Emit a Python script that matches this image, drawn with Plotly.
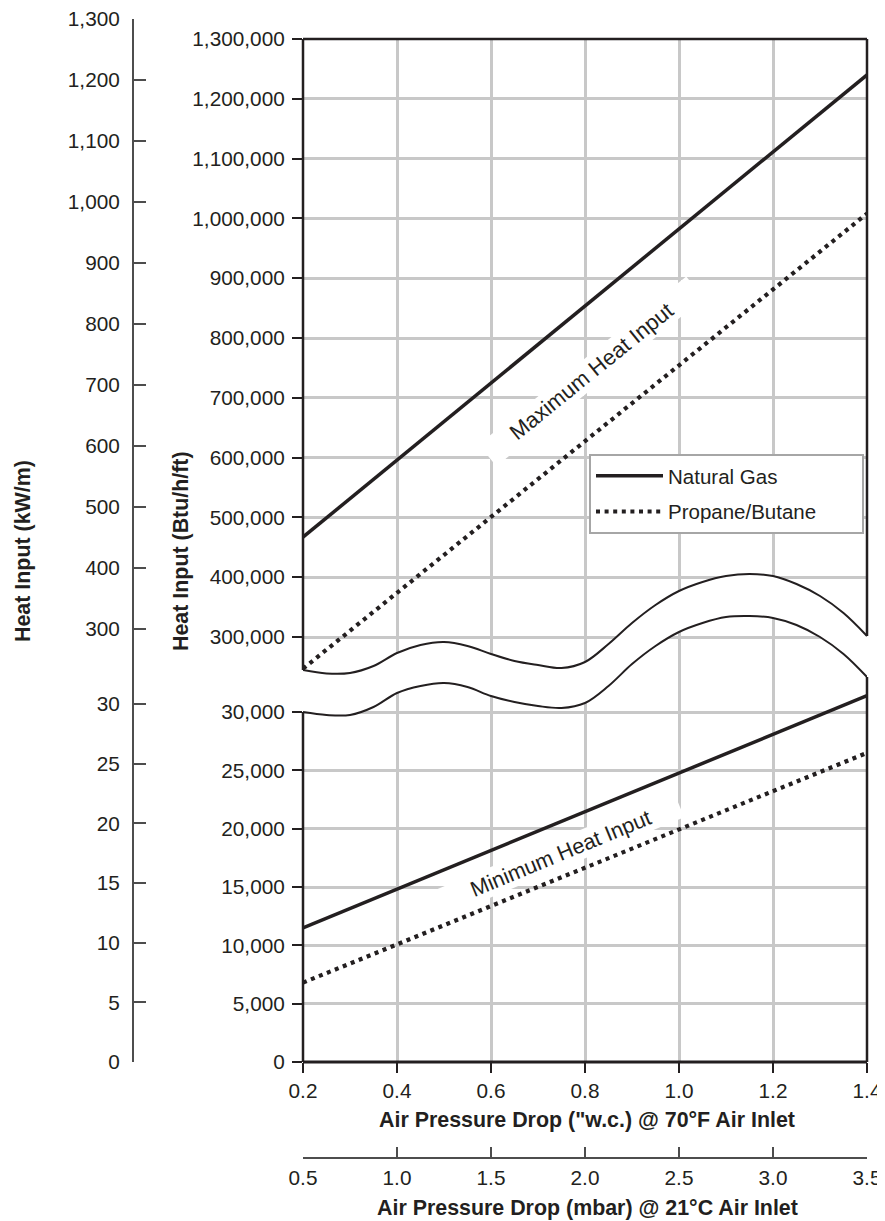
import plotly.graph_objects as go

# ---------------- data ----------------
x_wc = [0.2, 1.4]                       # Air pressure drop ("w.c.)
ng_max = [467000, 1240000]              # Natural gas, maximum heat input (Btu/h/ft)
pb_max = [247000, 1008000]              # Propane/Butane, maximum heat input
ng_min = [11500, 31400]                 # Natural gas, minimum heat input
pb_min = [6800, 26500]                  # Propane/Butane, minimum heat input

x_ticks = [0.2, 0.4, 0.6, 0.8, 1.0, 1.2, 1.4]
mbar_ticks = [0.5, 1.0, 1.5, 2.0, 2.5, 3.0, 3.5]
btu_lo_ticks = [0, 5000, 10000, 15000, 20000, 25000, 30000]
btu_hi_ticks = [300000, 400000, 500000, 600000, 700000, 800000, 900000,
                1000000, 1100000, 1200000, 1300000]
kw_lo_ticks = [0, 5, 10, 15, 20, 25, 30]
kw_hi_ticks = [300, 400, 500, 600, 700, 800, 900, 1000, 1100, 1200, 1300]

# axis-break band (wavy), expressed on the upper Btu/h/ft scale
break_x = [0.20, 0.25, 0.30, 0.35, 0.40, 0.45, 0.50, 0.55, 0.60, 0.65, 0.70, 0.75, 0.80,
           0.85, 0.90, 0.95, 1.00, 1.05, 1.10, 1.15, 1.20, 1.25, 1.30, 1.35, 1.40]
break_top = [244800, 239000, 239800, 251500, 273200, 286600, 291600, 285000, 271600,
             259900, 253200, 248200, 258200, 288300, 323400, 353500, 376900, 392000,
             402000, 405400, 402000, 388600, 368600, 340100, 301700]
break_bottom = [174600, 169600, 169600, 182900, 206400, 218100, 223100, 216400, 201300,
                191300, 184600, 181300, 189600, 218100, 254800, 285000, 308400, 323400,
                333400, 335100, 331800, 320100, 300000, 271600, 233100]

# ---------------- layout geometry (page pixels; page body has an 8 px margin) ----------------
OFF = 8
W, H = 885 - OFF, 1221 - OFF
ML, MR, MT, MB = 12, 18, 2, 63
PW, PH = W - ML - MR, H - MT - MB


def pxx(px):
    return (px - OFF - ML) / PW


def pxy(py):
    return (H - MB - (py - OFF)) / PH


PLOT_L, PLOT_R, PLOT_T, PLOT_B = 303, 867, 39, 1062
X_DOM = [pxx(PLOT_L), pxx(PLOT_R)]
Y_DOM = [pxy(PLOT_B), pxy(PLOT_T)]
KW_TOP = 19
KW_DOM = [pxy(PLOT_B), pxy(KW_TOP)]

# broken-axis ranges (each scale overlays the full plot height)
Y_LO_RANGE = [0, 30000 * (PLOT_B - PLOT_T) / (PLOT_B - 712)]
hi_per_px = 1000000 / (637 - PLOT_T)
Y_HI_RANGE = [300000 - (PLOT_B - 637) * hi_per_px, 1300000]
KW_LO_RANGE = [0, 30 * (PLOT_B - KW_TOP) / (PLOT_B - 704)]
kw_per_px = 1000 / (629 - KW_TOP)
KW_HI_RANGE = [300 - (PLOT_B - 629) * kw_per_px, 1300]

INK = "#231f20"
GRID = "#c8c8c8"
AX2 = "#4d4d4d"
FONT = "Liberation Sans, Arial, Helvetica, sans-serif"
DOT = "4px,4.6px"
NB = "\u00a0"

fig = go.Figure()

fig.add_trace(go.Scatter(x=x_wc, y=ng_max, xaxis="x", yaxis="y2", mode="lines",
                         name="Natural Gas", legendgroup="ng",
                         line=dict(color=INK, width=3.5), hoverinfo="skip"))
fig.add_trace(go.Scatter(x=x_wc, y=pb_max, xaxis="x", yaxis="y2", mode="lines",
                         name="Propane/Butane" + NB * 7, legendgroup="pb",
                         line=dict(color=INK, width=4.2, dash=DOT), hoverinfo="skip"))
fig.add_trace(go.Scatter(x=x_wc, y=ng_min, xaxis="x", yaxis="y", mode="lines",
                         name="Natural Gas", legendgroup="ng", showlegend=False,
                         line=dict(color=INK, width=3.5), hoverinfo="skip"))
fig.add_trace(go.Scatter(x=x_wc, y=pb_min, xaxis="x", yaxis="y", mode="lines",
                         name="Propane/Butane", legendgroup="pb", showlegend=False,
                         line=dict(color=INK, width=4.2, dash=DOT), hoverinfo="skip"))

# wavy axis-break band
fig.add_trace(go.Scatter(x=break_x, y=break_bottom, xaxis="x", yaxis="y2", mode="lines",
                         line=dict(color=INK, width=2, shape="spline", smoothing=1),
                         showlegend=False, hoverinfo="skip"))
fig.add_trace(go.Scatter(x=break_x, y=break_top, xaxis="x", yaxis="y2", mode="lines",
                         fill="tonexty", fillcolor="white",
                         line=dict(color=INK, width=2, shape="spline", smoothing=1),
                         showlegend=False, hoverinfo="skip"))

# carriers for the secondary (mbar / kW/m) scales
fig.add_trace(go.Scatter(x=[], y=[], xaxis="x2", yaxis="y3", showlegend=False, hoverinfo="skip"))
fig.add_trace(go.Scatter(x=[], y=[], xaxis="x2", yaxis="y4", showlegend=False, hoverinfo="skip"))

tickfont = dict(family=FONT, size=20.8, color=INK)
common_main = dict(ticks="outside", ticklen=10, tickwidth=1.5, tickcolor=INK,
                   showgrid=True, gridcolor=GRID, gridwidth=2.5, showline=False,
                   zeroline=False, tickfont=tickfont, layer="below traces",
                   automargin=False)
common_sec = dict(ticks="inside", tickwidth=1.5, tickcolor=AX2, showline=True,
                  linecolor=AX2, linewidth=2, showgrid=False, zeroline=False,
                  tickfont=tickfont, automargin=False, ticklabeloverflow="allow")

fig.update_layout(
    template="none",
    width=W, height=H, autosize=False,
    margin=dict(l=ML, r=MR, t=MT, b=MB, pad=0),
    paper_bgcolor="white", plot_bgcolor="rgba(0,0,0,0)",
    font=dict(family=FONT, size=20, color=INK),
    hovermode=False,
    xaxis=dict(domain=X_DOM, range=[0.2, 1.4], tickvals=x_ticks, tickformat=".1f",
               anchor="y", **common_main),
    yaxis=dict(domain=Y_DOM, range=Y_LO_RANGE, tickvals=btu_lo_ticks, tickformat=",d",
               anchor="x", ticklabelstandoff=3, **common_main),
    yaxis2=dict(domain=Y_DOM, range=Y_HI_RANGE, tickvals=btu_hi_ticks, tickformat=",d",
                anchor="x", overlaying="y", side="left", ticklabelstandoff=3, **common_main),
    xaxis2=dict(domain=X_DOM, range=[0.5, 3.5], tickvals=mbar_ticks, tickformat=".1f",
                anchor="free", position=0, side="bottom", ticklen=10,
                ticklabelstandoff=1, **common_sec),
    yaxis3=dict(domain=KW_DOM, range=KW_LO_RANGE, tickvals=kw_lo_ticks, tickformat=",d",
                anchor="free", position=pxx(133), side="left", ticklen=12,
                ticklabelstandoff=8, **common_sec),
    yaxis4=dict(domain=KW_DOM, range=KW_HI_RANGE, tickvals=kw_hi_ticks, tickformat=",d",
                anchor="free", position=pxx(133), side="left", overlaying="y3",
                ticklen=12, ticklabelstandoff=8, **common_sec),
    legend=dict(x=pxx(589), y=pxy(454), xanchor="left", yanchor="top",
                bgcolor="white", bordercolor="#a6a6a6", borderwidth=2,
                font=dict(family=FONT, size=20.5, color=INK), itemwidth=67,
                tracegroupgap=6),
)


def ydom(v):
    return (v - Y_HI_RANGE[0]) / (Y_HI_RANGE[1] - Y_HI_RANGE[0])


border = dict(color=INK, width=2.5)
shapes = [
    dict(type="line", xref="x domain", yref="y domain", x0=0, x1=1, y0=0, y1=0,
         line=dict(color=INK, width=3)),
    dict(type="line", xref="x domain", yref="y domain", x0=0, x1=1, y0=1, y1=1, line=border),
    dict(type="line", xref="x domain", yref="y domain", x0=0, x1=0, y0=0,
         y1=ydom(break_bottom[0]), line=border),
    dict(type="line", xref="x domain", yref="y domain", x0=0, x1=0,
         y0=ydom(break_top[0]), y1=1, line=border),
    dict(type="line", xref="x domain", yref="y domain", x0=1, x1=1, y0=0,
         y1=ydom(break_bottom[-1]), line=border),
    dict(type="line", xref="x domain", yref="y domain", x0=1, x1=1,
         y0=ydom(break_top[-1]), y1=1, line=border),
]
for s in shapes:
    s["layer"] = "above"
fig.update_layout(shapes=shapes)

pad = NB * 5
title_font = dict(family=FONT, size=21.4, color=INK)
ann_common = dict(showarrow=False, xanchor="center", yanchor="middle")
fig.update_layout(annotations=[
    dict(text=pad + "Maximum Heat Input" + pad, x=0.8128, y=744800, xref="x", yref="y2",
         textangle=-39, bgcolor="white", borderpad=1,
         font=dict(family=FONT, size=22, color=INK), **ann_common),
    dict(text=pad + "Minimum Heat Input" + pad, x=0.7468, y=17900, xref="x", yref="y",
         textangle=-22.5, bgcolor="white", borderpad=1,
         font=dict(family=FONT, size=21.6, color=INK), **ann_common),
    dict(text="<b>Heat Input (kW/m)</b>", x=pxx(23), y=pxy(551), xref="paper", yref="paper",
         textangle=-90, font=title_font, **ann_common),
    dict(text="<b>Heat Input (Btu/h/ft)</b>", x=pxx(181), y=pxy(551), xref="paper",
         yref="paper", textangle=-90, font=title_font, **ann_common),
    dict(text='<b>Air Pressure Drop ("w.c.) @ 70°F Air Inlet</b>', x=pxx(587), y=pxy(1120),
         xref="paper", yref="paper", font=title_font, **ann_common),
    dict(text="<b>Air Pressure Drop (mbar) @ 21°C Air Inlet</b>", x=pxx(587), y=pxy(1208),
         xref="paper", yref="paper", font=title_font, **ann_common),
])

fig.write_html("out.html")
